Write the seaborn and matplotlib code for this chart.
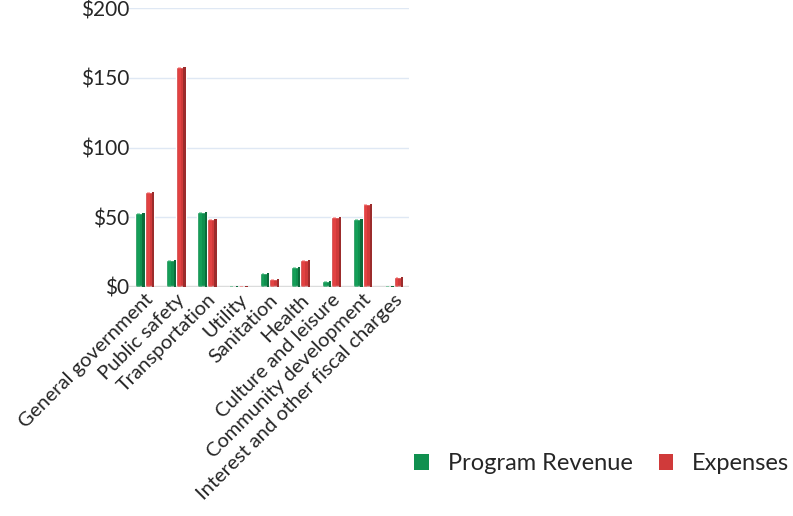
import matplotlib
matplotlib.use("Agg")
import matplotlib.pyplot as plt
import seaborn as sns
import pandas as pd
import numpy as np
from matplotlib.patches import Patch

categories = ["General government", "Public safety", "Transportation", "Utility",
              "Sanitation", "Health", "Culture and leisure", "Community development",
              "Interest and other fiscal charges"]
program_revenue = [53, 19, 54, 0.4, 10, 14, 4.5, 48.5, 0.3]
expenses = [68, 158, 49, 0.6, 6, 19, 50, 59.5, 7]
series = ["Program Revenue", "Expenses"]
y_ticks = [0, 50, 100, 150, 200]
y_tick_labels = ["$0", "$50", "$100", "$150", "$200"]

df = pd.DataFrame({
    "category": categories * 2,
    "value": program_revenue + expenses,
    "series": [series[0]] * len(categories) + [series[1]] * len(categories),
})

sns.set_theme(style="white")
plt.rcParams["font.family"] = ["Lato", "DejaVu Sans"]

colors = {"Program Revenue": "#10904f", "Expenses": "#d03a3a"}
fig = plt.figure(figsize=(7.93, 5.16), dpi=100)
ax = fig.add_axes([0.163, 0.444, 0.353, 0.54])
sns.barplot(data=df, x="category", y="value", hue="series", palette=colors,
            width=0.62, gap=0.0, dodge=True, ax=ax, legend=False, saturation=1)

# simple 3D-ish shading: darker right side and lighter center stripe
for p in list(ax.patches):
    x0, w, h = p.get_x(), p.get_width(), p.get_height()
    c = np.array(matplotlib.colors.to_rgb(p.get_facecolor()))
    ax.add_patch(plt.Rectangle((x0 + w * 0.76, 0), w * 0.24, h,
                               facecolor=c * 0.75, edgecolor="none", zorder=3))
    ax.add_patch(plt.Rectangle((x0 + w * 0.2, 0), w * 0.3, h,
                               facecolor=np.clip(c * 1.15 + 0.04, 0, 1), edgecolor="none",
                               alpha=0.45, zorder=3))

ax.set_ylim(0, 200)
ax.set_xlim(-0.5, len(categories) - 0.5)
ax.set_yticks(y_ticks)
ax.set_yticklabels(y_tick_labels, fontsize=15)
ax.yaxis.grid(True, color="#dfe8f4", linewidth=1)
ax.set_axisbelow(True)
ax.set_xlabel("")
ax.set_ylabel("")
for s in ax.spines.values():
    s.set_visible(False)
ax.axhline(0, color="#c8c8c8", linewidth=2.5, alpha=0.6, zorder=1)
ax.tick_params(axis="y", length=0, pad=0)
ax.tick_params(axis="x", length=0, pad=3)
ax.set_xticks(range(len(categories)))
ax.set_xticklabels(categories, rotation=45, ha="right", rotation_mode="anchor",
                   fontsize=14.5)

handles = [Patch(facecolor=colors[s], edgecolor="none") for s in series]
fig.legend(handles, series, loc="center", bbox_to_anchor=(0.759, 0.101),
           ncol=2, frameon=False, fontsize=17, handlelength=0.62, handleheight=0.62,
           handletextpad=0.8, columnspacing=1.1)

fig.savefig("out.png", dpi=100)
